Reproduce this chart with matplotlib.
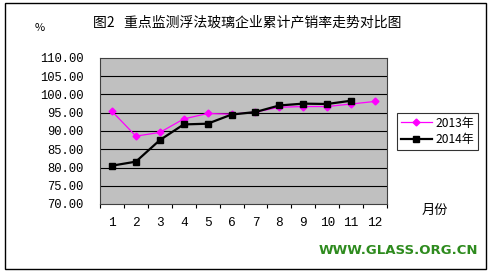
import matplotlib
matplotlib.use("Agg")
import matplotlib.pyplot as plt
from matplotlib.patches import Rectangle

plt.rcParams['font.family'] = ['Noto Sans CJK SC', 'DejaVu Sans']

months = [1, 2, 3, 4, 5, 6, 7, 8, 9, 10, 11, 12]
month_labels = ['1', '2', '3', '4', '5', '6', '7', '8', '9', '10', '11', '12']
y2013 = [95.4, 88.6, 89.6, 93.3, 94.8, 94.6, 95.2, 96.5, 96.7, 96.7, 97.4, 98.1]
y2014 = [80.5, 81.6, 87.5, 91.8, 92.0, 94.5, 95.2, 97.0, 97.5, 97.4, 98.3]
yticks = [70, 75, 80, 85, 90, 95, 100, 105, 110]

W, H = 491, 273
fig = plt.figure(figsize=(W / 100, H / 100), dpi=100)
fig.patch.set_facecolor('white')

# outer chart border
fig.add_artist(Rectangle((5 / W, 1 - 269 / H), 481 / W, 266 / H, transform=fig.transFigure,
                         fill=False, edgecolor='black', linewidth=1.0))

ax = fig.add_axes([100 / W, 1 - 204 / H, 287 / W, 146 / H])
ax.set_facecolor('#C0C0C0')

x13 = [m - 0.5 for m in months[:len(y2013)]]
x14 = [m - 0.5 for m in months[:len(y2014)]]
ax.plot(x13, y2013, color='#FF00FF', linewidth=0.9, marker='D', markersize=3.5,
        label='2013年', zorder=3)
ax.plot(x14, y2014, color='black', linewidth=1.6, marker='s', markersize=4.5,
        label='2014年', zorder=4)

ax.set_xlim(0, 12)
ax.set_ylim(70, 110)
ax.set_yticks(yticks)
ax.set_yticklabels([f'{v:.2f}' for v in yticks], family='Liberation Mono', fontsize=8.7)
for v in yticks[1:-1]:
    ax.axhline(v, color='black', linewidth=0.8, zorder=1)

ax.set_xticks(range(0, 13))
ax.set_xticklabels([])
ax.set_xticks([m - 0.5 for m in months], minor=True)
ax.set_xticklabels(month_labels, minor=True, family='Liberation Mono', fontsize=9.2)
ax.tick_params(axis='x', which='major', direction='out', length=3, width=0.8)
ax.tick_params(axis='x', which='minor', length=0, pad=9)
ax.tick_params(axis='y', length=0, pad=12)
for s in ax.spines.values():
    s.set_color('#404040')
    s.set_linewidth(0.8)

fig.text(247 / W, 1 - 22 / H, '图2   重点监测浮法玻璃企业累计产销率走势对比图',
         ha='center', va='center', fontsize=10)
fig.text(40 / W, 1 - 28 / H, '%', ha='center', va='center', fontsize=8)
fig.text(435 / W, 1 - 210 / H, '月份', ha='center', va='center', fontsize=9.5)
fig.text(398 / W, 1 - 250 / H, 'WWW.GLASS.ORG.CN', ha='center', va='center',
         fontsize=9.5, fontweight='heavy', color='#2E8B1E', family='DejaVu Sans')

leg = ax.legend(loc='center left', bbox_to_anchor=(397 / W, 1 - 131.5 / H),
                bbox_transform=fig.transFigure, frameon=True, fancybox=False,
                fontsize=8.7, handlelength=2.6, borderpad=0.3, labelspacing=0.3,
                handletextpad=0.3, borderaxespad=0)
leg.get_frame().set_edgecolor('black')
leg.get_frame().set_linewidth(0.8)

fig.savefig('out.png', dpi=100, facecolor='white')
